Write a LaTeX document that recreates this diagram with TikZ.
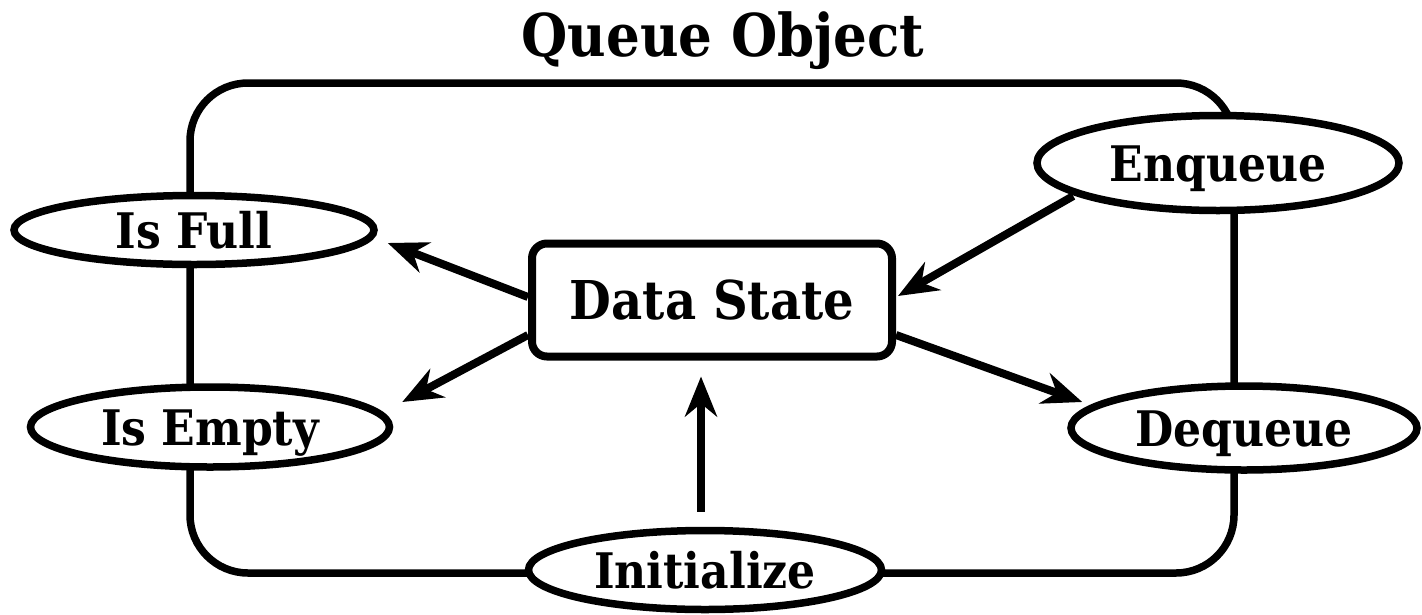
\documentclass[tikz,border=0pt]{standalone}
\usepackage{fontspec}
\newfontfamily\lblfont[FakeStretch=0.9]{DejaVu Serif}
\usetikzlibrary{shapes.geometric,arrows.meta,calc}
\begin{document}
\begin{tikzpicture}[x=1pt,y=-1pt,
  frame/.style={draw=black,line width=7.5pt,rounded corners=58pt,inner sep=0pt},
  oval/.style={ellipse,draw=black,fill=white,line width=7.5pt,inner sep=0pt,
     font=\lblfont\bfseries\fontsize{49}{52}\selectfont,text height=36pt,text depth=0pt},
  statebox/.style={rectangle,draw=black,fill=white,line width=8pt,rounded corners=15pt,inner sep=0pt,
     minimum width=360pt,minimum height=113pt,
     font=\lblfont\bfseries\fontsize{53.5}{56}\selectfont,text height=39pt,text depth=0pt},
  arr/.style={draw=black,line width=8pt,-{Stealth[length=40pt,width=32pt,inset=13pt]}},
  titletext/.style={font=\lblfont\bfseries\fontsize{59}{62}\selectfont,text height=43pt,text depth=0pt,inner sep=0pt}
]
\useasboundingbox[fill=white] (0,0) rectangle (1422,614);
\node[titletext] (title) at (723,35) {Queue Object};
\node[frame,minimum width=1044pt,minimum height=490pt] (frm) at (712,328) {};
\node[oval,minimum width=360pt,minimum height=69pt] (isfull) at (194,230) {Is Full};
\node[oval,minimum width=359pt,minimum height=80pt] (isempty) at (210,427) {Is Empty};
\node[oval,minimum width=362pt,minimum height=95pt] (enq) at (1218,163) {Enqueue};
\node[oval,minimum width=346pt,minimum height=84pt] (deq) at (1244,428) {Dequeue};
\node[oval,minimum width=353pt,minimum height=79pt] (init) at (705,570) {Initialize};
\node[statebox] (ds) at (712,300) {Data State};
\draw[arr] ($(ds.west)+(0,-3)$) -- ($(isfull.east)+(10,13)$);
\draw[arr] ($(ds.west)+(0,35)$) -- ($(isempty.east)+(9,-25)$);
\draw[arr] ($(enq.west)+(40,33)$) -- ($(ds.east)+(2,-4)$);
\draw[arr] ($(ds.east)+(0,35)$) -- ($(deq.west)+(15,-26)$);
\draw[arr] ($(init.north)+(-4,-15)$) -- ($(ds.south)+(-11,16)$);
\end{tikzpicture}
\end{document}
